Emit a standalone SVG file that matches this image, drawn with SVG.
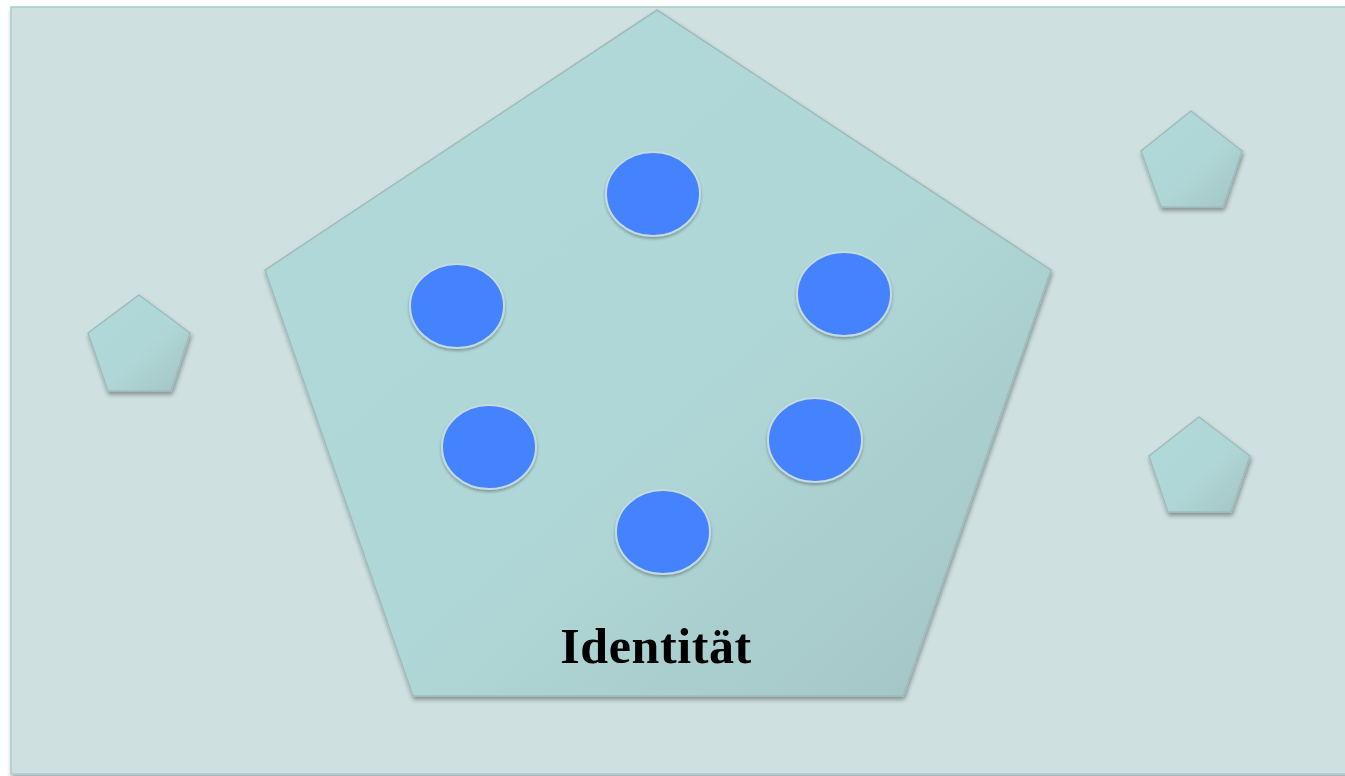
<svg xmlns="http://www.w3.org/2000/svg" width="1345" height="776" viewBox="0 0 1345 776">
  <defs>
    <linearGradient id="pg" x1="0" y1="0" x2="1" y2="1">
      <stop offset="0" stop-color="#b1d9d9"/>
      <stop offset="0.55" stop-color="#b0d7d7"/>
      <stop offset="1" stop-color="#a3c3c4"/>
    </linearGradient>
    <filter id="sh" x="-10%" y="-10%" width="120%" height="125%">
      <feGaussianBlur in="SourceAlpha" stdDeviation="2"/>
      <feOffset dx="1" dy="3" result="b"/>
      <feFlood flood-color="#000" flood-opacity="0.35"/>
      <feComposite in2="b" operator="in"/>
      <feMerge><feMergeNode/><feMergeNode in="SourceGraphic"/></feMerge>
    </filter>
    <filter id="shc" x="-10%" y="-10%" width="120%" height="130%">
      <feGaussianBlur in="SourceAlpha" stdDeviation="1.5"/>
      <feOffset dx="0" dy="2" result="b"/>
      <feFlood flood-color="#000" flood-opacity="0.3"/>
      <feComposite in2="b" operator="in"/>
      <feMerge><feMergeNode/><feMergeNode in="SourceGraphic"/></feMerge>
    </filter>
    <style>
      .pent { fill: url(#pg); stroke: #9fbcbc; stroke-width: 1.5; filter: url(#sh); }
      .dot { fill: #4582fe; stroke: #c4dbe0; stroke-width: 2; filter: url(#shc); }
      .lbl { font-family: "Liberation Serif", "DejaVu Serif", serif; font-weight: bold; font-size: 50px; letter-spacing: 0.6px; fill: #000; }
    </style>
  </defs>
  <rect x="0" y="0" width="1345" height="776" fill="#ffffff"/>
  <g id="background" filter="url(#sh)">
    <rect x="11" y="7" width="1340" height="767" fill="#cfe0e0" stroke="#a9cbcc" stroke-width="1.5"/>
  </g>
  <g id="identity">
    <polygon class="pent" points="657,10 1051,270 903,696 413,696 265,270"/>
    <text class="lbl" x="656" y="663" text-anchor="middle">Identität</text>
  </g>
  <g id="dot1"><ellipse class="dot" cx="653" cy="194" rx="47" ry="42"/></g>
  <g id="dot2"><ellipse class="dot" cx="457" cy="306" rx="47" ry="42"/></g>
  <g id="dot3"><ellipse class="dot" cx="844" cy="294" rx="47" ry="42"/></g>
  <g id="dot4"><ellipse class="dot" cx="489" cy="447" rx="47" ry="42"/></g>
  <g id="dot5"><ellipse class="dot" cx="815" cy="440" rx="47" ry="42"/></g>
  <g id="dot6"><ellipse class="dot" cx="663" cy="532" rx="47" ry="42"/></g>
  <g id="pent-left"><polygon class="pent" points="139,295 190,333 171,391 108,391 88,333"/></g>
  <g id="pent-right-top"><polygon class="pent" points="1191,111 1242,151 1223,207 1161,207 1141,151"/></g>
  <g id="pent-right-bottom"><polygon class="pent" points="1199,417 1250,456 1231,512 1168,512 1149,456"/></g>
  <g id="connectors"/>
</svg>
